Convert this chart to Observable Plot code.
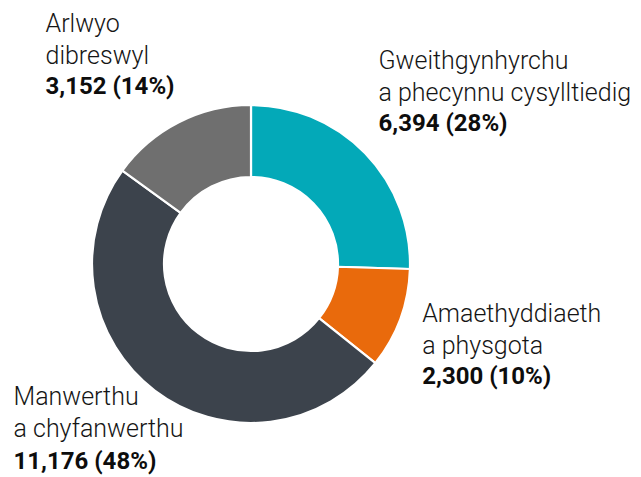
<!DOCTYPE html>
<html><head><meta charset="utf-8">
<script src="https://cdn.jsdelivr.net/npm/d3@7"></script>
<script src="https://cdn.jsdelivr.net/npm/@observablehq/plot@0.6"></script>
<style>body{margin:0;background:#fff}</style>
</head><body><div id="chart"></div>
<script>
// Data
const categories = ["Gweithgynhyrchu\na phecynnu cysylltiedig", "Amaethyddiaeth\na physgota", "Manwerthu\na chyfanwerthu", "Arlwyo\ndibreswyl"];
const values = [6394, 2300, 11176, 3152];
const percents = [28, 10, 48, 14];
const sliceShares = [25.5, 10.2, 49.3, 15.0];

// Style / layout
const colors = ["#03a9b8", "#e96a0c", "#3c434c", "#6f6f6f"];
const center = [251, 264];
const outerR = 159, innerR = 87;
const labelPos = [[378, 100, 130.7], [421.7, 353.3, 383.3], [13, 436.7, 468.3], [45, 63, 93]];

const rows = categories.map((c, i) => ({
  name: c, value: values[i], share: sliceShares[i], color: colors[i],
  x: labelPos[i][0], yName: labelPos[i][1], yVal: labelPos[i][2],
  valueLabel: d3.format(",")(values[i]) + " (" + percents[i] + "%)"
}));

const pie = d3.pie().sort(null).value(d => d.share)(rows);

function donut(index, scales) {
  const cx = scales.x(center[0]), cy = scales.y(center[1]);
  const arc = d3.arc().innerRadius(innerR).outerRadius(outerR);
  const g = d3.create("svg:g").attr("transform", `translate(${cx},${cy})`);
  g.selectAll("path").data(pie).join("path")
    .attr("d", arc)
    .attr("fill", d => d.data.color)
    .attr("stroke", "#fff")
    .attr("stroke-width", 2.2)
    .attr("stroke-linejoin", "round");
  return g.node();
}

const font = "Roboto, 'Noto Sans', sans-serif";
const chart = Plot.plot({
  width: 641, height: 477,
  margin: 0,
  x: {type: "identity", axis: null},
  y: {type: "identity", axis: null},
  style: {fontFamily: font, background: "#fff", overflow: "visible"},
  marks: [
    Plot.dot(rows, {x: "x", y: "yName", r: 0}),
    donut,
    Plot.text(rows, {x: "x", y: "yName", text: "name", textAnchor: "start", lineAnchor: "bottom",
      fontSize: 25, lineHeight: 1.27, fontWeight: 300, fill: "#151515"}),
    Plot.text(rows, {x: "x", y: "yVal", text: "valueLabel", textAnchor: "start", lineAnchor: "bottom",
      fontSize: 24, fontWeight: 700, fill: "#0d0d0d"})
  ]
});
document.getElementById("chart").append(chart);
</script>
</body></html>
